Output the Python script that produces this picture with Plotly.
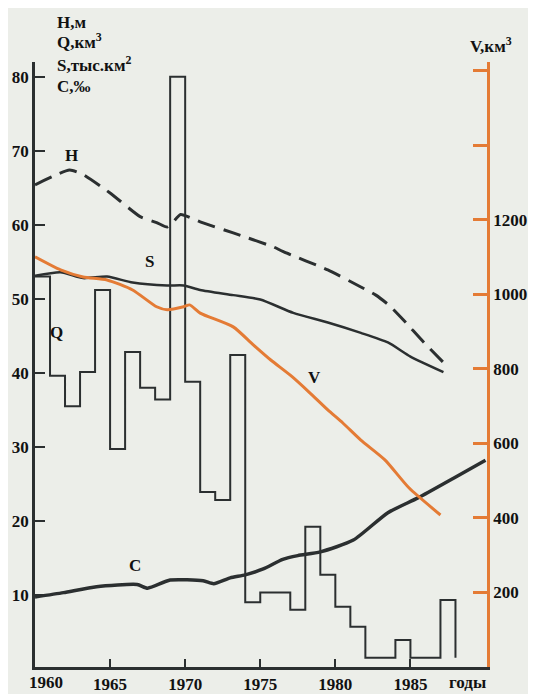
import plotly.graph_objects as go

# ---------------- data ----------------
q_years = list(range(1960, 1989))
q_values = [53.0, 39.6, 35.5, 40.1, 51.2, 29.7, 42.8, 38.0, 36.4, 80.0,
            38.8, 23.9, 22.8, 42.4, 9.0, 10.3, 10.3, 8.0, 19.2, 12.7,
            8.4, 5.7, 1.5, 1.5, 3.9, 1.5, 1.5, 9.3, 1.5]

h_years = [1960, 1962.3, 1963.2, 1965, 1967, 1968.1, 1968.8, 1969.2, 1969.7,
           1971, 1973.2, 1975.9, 1976.5, 1979.5, 1981.7, 1982.7, 1983.6, 1984.6, 1985.9, 1987.2]
h_values = [65.4, 67.4, 66.8, 64.3, 61.1, 60.3, 59.7, 60.4, 61.4,
            60.4, 58.9, 57.0, 56.4, 53.9, 51.6, 50.5, 49.1, 47.0, 44.1, 41.4]

s_years = [1960, 1961.7, 1963.2, 1964.8, 1966.5, 1968.8, 1969.9, 1971, 1973.2,
           1975, 1977.2, 1979.5, 1981.7, 1983.5, 1985, 1987.2]
s_values = [53.1, 53.6, 52.8, 53.0, 52.2, 51.8, 51.8, 51.2, 50.5,
            49.9, 48.1, 46.8, 45.4, 44.1, 42.2, 40.1]

c_years = [1960, 1961.9, 1964.1, 1966.8, 1967.5, 1969, 1971.2, 1971.9, 1973,
           1974, 1975.2, 1976.5, 1977.5, 1979, 1981.2, 1983.5, 1985.5, 1987.9, 1990]
c_values = [9.7, 10.3, 11.1, 11.4, 10.9, 12.0, 11.9, 11.5, 12.3,
            12.7, 13.5, 14.8, 15.3, 15.8, 17.4, 21.1, 23.1, 25.8, 28.2]

v_years = [1960, 1961.7, 1963.2, 1964.8, 1966.5, 1968.1, 1968.8, 1969.9, 1970.3,
           1971, 1973.2, 1974.5, 1975.7, 1977.1, 1978.3, 1979.5, 1980.5, 1981.7,
           1983.3, 1984.9, 1987]
v_values = [1101, 1066, 1047, 1039, 1012, 967, 959, 967, 972,
            950, 913, 866, 824, 780, 736, 690, 655, 609,
            556, 481, 408]

x_tick_vals = [1965, 1970, 1975, 1980, 1985]
x_tick_text = ["1965", "1970", "1975", "1980", "1985"]
left_tick_vals = [10, 20, 30, 40, 50, 60, 70, 80]
right_tick_vals = [200, 400, 600, 800, 1000, 1200, 1400, 1600]
right_tick_text = ["200", "400", "600", "800", "1000", "1200", "", ""]

DARK = "#2b2f30"
ORANGE = "#e47b35"
FONT = "Liberation Serif"
BG = "#eceee9"

fig = go.Figure()

fig.add_trace(go.Scatter(x=q_years, y=q_values, mode="lines",
                         line=dict(color=DARK, width=2, shape="hv"), name="Q"))
fig.add_trace(go.Scatter(x=s_years, y=s_values, mode="lines",
                         line=dict(color=DARK, width=2.5, shape="spline", smoothing=0.6), name="S"))
fig.add_trace(go.Scatter(x=h_years, y=h_values, mode="lines",
                         line=dict(color=DARK, width=3, shape="spline", smoothing=0.5,
                                   dash="18px,9px"), name="H"))
fig.add_trace(go.Scatter(x=c_years, y=c_values, mode="lines",
                         line=dict(color=DARK, width=3.5, shape="spline", smoothing=0.6), name="C"))
fig.add_trace(go.Scatter(x=v_years, y=v_values, mode="lines", yaxis="y2",
                         line=dict(color=ORANGE, width=3, shape="spline", smoothing=0.6), name="V"))

tick_font = dict(family=FONT, size=17, color="#111111", weight="bold")

# margins compensate for the 8px default body margin of the page
fig.update_layout(
    width=536, height=694,
    margin=dict(l=27, r=57, t=54, b=35, autoexpand=False),
    paper_bgcolor=BG, plot_bgcolor=BG,
    showlegend=False,
    xaxis=dict(range=[1960, 1990.1], showgrid=False, zeroline=False, automargin=False,
               showline=True, linecolor=DARK, linewidth=2.5,
               ticks="inside", ticklen=8, tickwidth=2, tickcolor=DARK,
               tickvals=x_tick_vals, ticktext=x_tick_text, tickfont=tick_font),
    yaxis=dict(range=[0.25, 82], showgrid=False, zeroline=False, automargin=False,
               showline=True, linecolor=DARK, linewidth=2.5,
               ticks="inside", ticklen=10, tickwidth=2, tickcolor=DARK,
               tickvals=left_tick_vals, tickfont=tick_font),
    yaxis2=dict(range=[0, 1624], overlaying="y", side="right", automargin=False,
                showgrid=False, zeroline=False,
                showline=True, linecolor=ORANGE, linewidth=2.5,
                ticks="inside", ticklen=14, tickwidth=2.5, tickcolor=ORANGE,
                tickvals=right_tick_vals, ticktext=right_tick_text, tickfont=tick_font),
)


def ann(x, y, text, xanchor="center", ref="data", size=17):
    xr, yr = ("x", "y") if ref == "data" else ("paper", "paper")
    fig.add_annotation(x=x, y=y, xref=xr, yref=yr, text="<b>" + text + "</b>",
                       showarrow=False, xanchor=xanchor, yanchor="middle",
                       font=dict(family=FONT, size=size, color="#111111"))


# axis titles (top-left block and right) -- paper coordinates
ann(0.044, 1.066, "H,м", "left", "paper")
ann(0.044, 1.035, "Q,км<sup>3</sup>", "left", "paper")
ann(0.044, 0.997, "S,тыс.км<sup>2</sup>", "left", "paper")
ann(0.044, 0.959, "C,‰", "left", "paper")
ann(0.958, 1.028, "V,км<sup>3</sup>", "left", "paper")

# curve labels
ann(1962.46, 69.4, "H")
ann(1967.6, 55.0, "S")
ann(1961.46, 45.4, "Q")
ann(1978.64, 39.4, "V")
ann(1966.66, 14.0, "C")

# bottom labels
ann(0.0243, -0.026, "1960", "center", "paper")
ann(0.956, -0.026, "годы", "center", "paper")

fig.write_html("out.html")
